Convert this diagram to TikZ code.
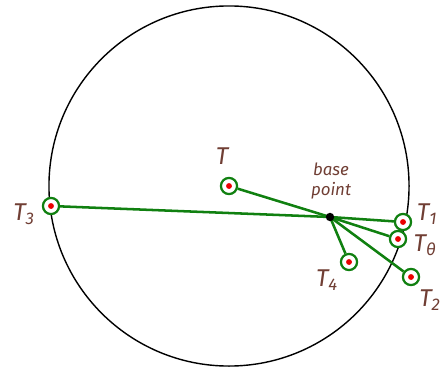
\documentclass[tikz,border=0pt]{standalone}
\usepackage{fontspec}
\setmainfont{Fira Sans}
\usepackage{tikz}
\usetikzlibrary{positioning, calc}
\definecolor{inkgreen}{RGB}{16,128,16}
\definecolor{inkbrown}{RGB}{112,62,52}
\definecolor{inkred}{RGB}{235,0,0}
\tikzset{
  pt/.style={circle, draw=inkgreen, line width=1.6pt, fill=white, minimum size=11.5pt, inner sep=0pt,
    path picture={\fill[inkred] (path picture bounding box.center) circle (2.1pt);}},
  lbl/.style={text=inkbrown, font=\LARGE\itshape},
  ray/.style={inkgreen, line width=1.8pt}
}
\begin{document}
\begin{tikzpicture}[x=0.025cm, y=-0.025cm]
        \useasboundingbox (0,0) rectangle (446,368);
        % ball
        \draw[line width=1pt] (229,186) circle (4.5cm);
        \coordinate (base) at (330,217);
        \node[pt] (T) at (229,186) {};
        \node[pt] (T3) at (51,206) {};
        \node[pt] (T1) at (403,222) {};
        \node[pt] (Tt) at (398,239) {};
        \node[pt] (T4) at (349,262) {};
        \node[pt] (T2) at (411,277) {};
        \foreach \p in {T,T3,T1,Tt,T4,T2}
          \draw[ray] (base) -- (\p);
        \fill (base) circle (3pt);
        \node[lbl] (lT) at (222,156) {T};
        \node[lbl, font=\large\itshape, align=center, inner sep=0pt] (lbase) at (331,181) {base\\point};
        \node[lbl] (lT3) at (24,214) {T\textsubscript{3}};
        \node[lbl] (lT1) at (427,214) {T\textsubscript{1}};
        \node[lbl] (lTt) at (425,245) {T\textsubscript{θ}};
        \node[lbl] (lT4) at (327,280) {T\textsubscript{4}};
        \node[lbl] (lT2) at (430,300) {T\textsubscript{2}};
      \end{tikzpicture}
\end{document}
